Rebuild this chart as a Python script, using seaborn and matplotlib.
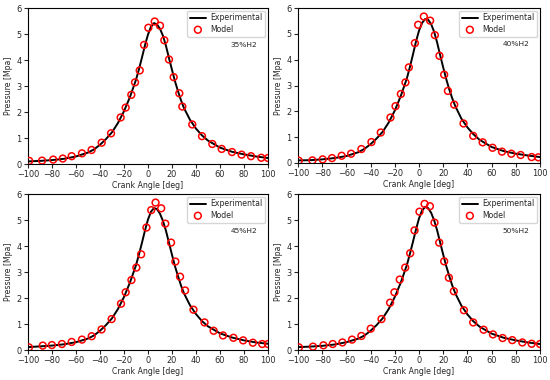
import matplotlib
matplotlib.use("Agg")
import matplotlib.pyplot as plt
import seaborn as sns
import pandas as pd

sns.set_style("ticks")
plt.rcParams['font.family'] = ['DejaVu Sans']

# ---------------- data ----------------
exp_angle = [-100, -90, -80, -70, -60, -50, -45, -40, -35, -30, -25, -20, -15, -10, -7.5, -5, -2.5,
             0, 2.5, 5, 7.5, 10, 12.5, 15, 17.5, 20, 22.5, 25, 27.5, 30, 35, 40, 45, 50, 60, 70, 80, 90, 100]

exp_35 = [0.10, 0.12, 0.15, 0.20, 0.29, 0.44, 0.56, 0.74, 0.96, 1.22, 1.58, 2.03, 2.58, 3.24, 3.65, 4.10, 4.57,
          4.98, 5.28, 5.42, 5.37, 5.20, 4.93, 4.54, 4.07, 3.62, 3.18, 2.80, 2.45, 2.15, 1.70, 1.36, 1.10, 0.90, 0.63, 0.47, 0.37, 0.29, 0.23]
exp_40 = [0.10, 0.11, 0.14, 0.19, 0.27, 0.42, 0.55, 0.73, 0.95, 1.21, 1.57, 2.03, 2.60, 3.28, 3.72, 4.20, 4.70,
          5.12, 5.42, 5.57, 5.55, 5.38, 5.08, 4.66, 4.17, 3.70, 3.25, 2.85, 2.50, 2.20, 1.72, 1.38, 1.11, 0.90, 0.62, 0.46, 0.36, 0.29, 0.23]
exp_45 = [0.11, 0.14, 0.17, 0.22, 0.30, 0.44, 0.56, 0.74, 0.96, 1.22, 1.58, 2.04, 2.60, 3.26, 3.68, 4.13, 4.60,
          5.02, 5.32, 5.46, 5.42, 5.24, 4.96, 4.58, 4.12, 3.66, 3.22, 2.84, 2.48, 2.18, 1.72, 1.38, 1.11, 0.91, 0.64, 0.48, 0.37, 0.29, 0.24]
exp_50 = [0.11, 0.13, 0.16, 0.21, 0.30, 0.44, 0.56, 0.74, 0.96, 1.22, 1.58, 2.04, 2.60, 3.27, 3.70, 4.16, 4.63,
          5.06, 5.36, 5.50, 5.46, 5.28, 4.99, 4.60, 4.13, 3.67, 3.23, 2.84, 2.48, 2.18, 1.71, 1.37, 1.10, 0.90, 0.63, 0.47, 0.37, 0.29, 0.23]

mod_x_35 = [-99, -88.3, -79, -71, -63.6, -55, -47, -38.6, -30.8, -22.8, -18.6, -13.9, -10.8, -6.9, -3.3, 0.3,
            5.6, 10, 13.6, 17.5, 21.4, 26.1, 28.6, 36.9, 45, 53.6, 61.4, 70, 78, 85.8, 94.4, 100]
mod_y_35 = [0.12, 0.13, 0.17, 0.21, 0.30, 0.41, 0.54, 0.82, 1.18, 1.79, 2.17, 2.66, 3.14, 3.60, 4.58, 5.24,
            5.48, 5.32, 4.76, 4.02, 3.34, 2.72, 2.21, 1.52, 1.07, 0.77, 0.58, 0.46, 0.36, 0.30, 0.24, 0.23]

mod_x_40 = [-99.4, -88.1, -79.6, -71.9, -63.9, -56.1, -47.6, -39.3, -31.6, -23.6, -19.4, -15, -11.2, -8.4, -3.4, -0.7,
            4, 9.2, 13.1, 16.9, 20.8, 23.9, 29.1, 36.8, 44.8, 52.6, 60.8, 68.6, 76.3, 84, 93.1, 98.6]
mod_y_40 = [0.09, 0.10, 0.14, 0.19, 0.28, 0.36, 0.54, 0.81, 1.18, 1.76, 2.20, 2.67, 3.12, 3.70, 4.64, 5.35,
            5.67, 5.51, 4.95, 4.15, 3.42, 2.79, 2.26, 1.53, 1.05, 0.80, 0.59, 0.44, 0.36, 0.31, 0.23, 0.22]

mod_x_45 = [-99.2, -87.7, -80.1, -71.7, -63.6, -55, -46.9, -38.7, -30.3, -22.5, -18.6, -13.8, -9.7, -5.7, -1.3, 2.7,
            6.3, 11, 14.4, 19.2, 22.8, 26.7, 30.9, 37.9, 47.1, 54.7, 62.5, 71.2, 79.3, 87.4, 95.2, 100]
mod_y_45 = [0.10, 0.17, 0.19, 0.23, 0.31, 0.40, 0.53, 0.79, 1.19, 1.78, 2.22, 2.69, 3.17, 3.68, 4.71, 5.38,
            5.67, 5.45, 4.86, 4.13, 3.40, 2.82, 2.29, 1.55, 1.06, 0.74, 0.56, 0.47, 0.37, 0.28, 0.23, 0.23]

mod_x_50 = [-99.2, -87.6, -79, -71.3, -63.3, -55.3, -47.6, -39.9, -31, -23.9, -20.3, -15.9, -11.4, -7.3, -3.7, 0.4,
            4.6, 9, 12.8, 16.7, 20.8, 24.7, 28.8, 37.1, 44.8, 53.4, 61.1, 69.1, 77.1, 85.4, 93.1, 100]
mod_y_50 = [0.10, 0.13, 0.18, 0.23, 0.29, 0.40, 0.54, 0.82, 1.19, 1.82, 2.22, 2.71, 3.17, 3.72, 4.60, 5.32,
            5.62, 5.53, 4.90, 4.13, 3.41, 2.78, 2.26, 1.53, 1.06, 0.78, 0.60, 0.46, 0.38, 0.29, 0.24, 0.23]

labels = ["35%H2", "40%H2", "45%H2", "50%H2"]
x_ticks = [-100, -80, -60, -40, -20, 0, 20, 40, 60, 80, 100]
y_ticks = [0, 1, 2, 3, 4, 5, 6]

panels = [
    (exp_35, mod_x_35, mod_y_35),
    (exp_40, mod_x_40, mod_y_40),
    (exp_45, mod_x_45, mod_y_45),
    (exp_50, mod_x_50, mod_y_50),
]

# ---------------- figure ----------------
W, H = 550, 380
fig = plt.figure(figsize=(5.5, 3.8), dpi=100)
boxes = [(28, 8, 268, 164), (298, 8, 540, 163), (28, 194, 268, 350), (298, 194, 540, 350)]

fs = 5.6
for (exp_y, mx, my), lab, (l, t, r, b) in zip(panels, labels, boxes):
    ax = fig.add_axes([l / W, 1 - b / H, (r - l) / W, (b - t) / H])
    df_e = pd.DataFrame({"angle": exp_angle, "p": exp_y})
    df_m = pd.DataFrame({"angle": mx, "p": my})
    sns.lineplot(data=df_e, x="angle", y="p", ax=ax, color="black", lw=1.4,
                 label="Experimental", zorder=2)
    sns.scatterplot(data=df_m, x="angle", y="p", ax=ax, marker="o", s=24,
                    facecolor="none", edgecolor="red", linewidth=1.1,
                    label="Model", zorder=3)
    ax.set_xlim(-100, 100)
    ax.set_ylim(0, 6)
    ax.set_xticks(x_ticks)
    ax.set_yticks(y_ticks)
    ax.tick_params(labelsize=fs + 0.3, length=3, width=0.8, pad=1.5)
    ax.set_xlabel("Crank Angle [deg]", fontsize=fs, labelpad=1.5)
    ax.set_ylabel("Pressure [Mpa]", fontsize=fs, labelpad=2.5)
    for s in ax.spines.values():
        s.set_visible(True)
        s.set_color("black")
        s.set_linewidth(0.8)
    leg = ax.legend(loc="upper right", fontsize=fs, frameon=True, handlelength=2.0,
                    borderpad=0.35, labelspacing=0.3, borderaxespad=0.35,
                    handletextpad=0.6)
    leg.get_frame().set_edgecolor("#cccccc")
    ax.text(0.9, 0.765, lab, transform=ax.transAxes, fontsize=fs - 0.2,
            ha="center", va="center")

fig.savefig("out.png", dpi=100)
